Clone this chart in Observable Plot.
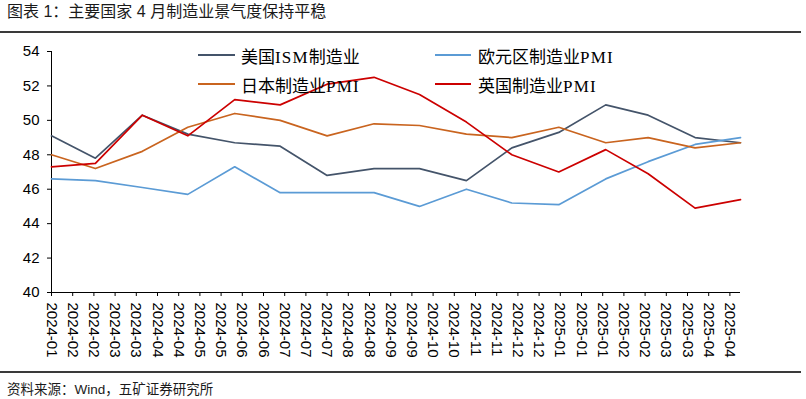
<!DOCTYPE html>
<html><head><meta charset="utf-8">
<script src="https://cdn.jsdelivr.net/npm/d3@7"></script>
<script src="https://cdn.jsdelivr.net/npm/@observablehq/plot@0.6"></script>
<style>
body{margin:0;background:#fff;width:806px;height:399px;overflow:hidden;position:relative;font-family:"Liberation Sans",Arial,"Noto Sans CJK SC",sans-serif;color:#000;}
#title{position:absolute;left:7px;top:4px;font-size:16px;line-height:16px;color:#1a1a1a;white-space:nowrap;}
.rule{position:absolute;left:0;width:801px;height:2px;background:#3a3a3a;}
#chart{position:absolute;left:0;top:36px;}
#source{position:absolute;left:7px;top:382px;font-size:13.5px;line-height:15px;color:#1a1a1a;white-space:nowrap;}
.lg-line{position:absolute;height:2px;}
.lg-text{position:absolute;font-family:"Liberation Serif","Noto Sans CJK SC",serif;font-size:17px;line-height:20px;white-space:nowrap;color:#000;}
.lat{letter-spacing:1.2px;}
</style>
</head><body>
<div id="title">图表 1：主要国家 4 月制造业景气度保持平稳</div>
<div class="rule" style="top:31px"></div>
<div id="chart"></div>
<div class="rule" style="top:371px"></div>
<div id="source">资料来源：Wind，五矿证券研究所</div>
<div id="legend"></div>
<script>
// Data (monthly, month-end dates)
const months = ["2024-01-31","2024-02-29","2024-03-31","2024-04-30","2024-05-31","2024-06-30","2024-07-31","2024-08-31","2024-09-30","2024-10-31","2024-11-30","2024-12-31","2025-01-31","2025-02-28","2025-03-31","2025-04-30"];
const seriesNames = ["美国ISM制造业","欧元区制造业PMI","日本制造业PMI","英国制造业PMI"];
const seriesColors = ["#44546A","#5B9BD5","#C9641F","#CC0000"];
const usISM   = [49.1,47.8,50.3,49.2,48.7,48.5,46.8,47.2,47.2,46.5,48.4,49.3,50.9,50.3,49.0,48.7];
const euroPMI = [46.6,46.5,46.1,45.7,47.3,45.8,45.8,45.8,45.0,46.0,45.2,45.1,46.6,47.6,48.6,49.0];
const japanPMI= [48.0,47.2,48.2,49.6,50.4,50.0,49.1,49.8,49.7,49.2,49.0,49.6,48.7,49.0,48.4,48.7];
const ukPMI   = [47.3,47.5,50.3,49.1,51.2,50.9,52.1,52.5,51.5,49.9,48.0,47.0,48.3,46.9,44.9,45.4];
const yTicks = [40,42,44,46,48,50,52,54];
const tickStepDays = 14;

const parse = d3.utcParse("%Y-%m-%d");
const dates = months.map(parse);
const allSeries = [usISM, euroPMI, japanPMI, ukPMI];
const data = [];
allSeries.forEach((vals, si) => vals.forEach((v, i) => data.push({series: seriesNames[si], date: dates[i], value: v})));
const d0 = dates[0], d1 = dates[dates.length - 1];
const xTicks = d3.utcDay.range(d0, d1, tickStepDays);

const chart = Plot.plot({
  width: 806, height: 334,
  marginLeft: 51, marginRight: 66, marginTop: 15, marginBottom: 78,
  style: {fontFamily: "'Liberation Sans', Arial, sans-serif", fontSize: "15px", color: "#000", background: "transparent", overflow: "visible"},
  x: {type: "utc", domain: [d0, d1], ticks: xTicks, tickFormat: d3.utcFormat("%Y-%m"), tickRotate: 90, tickSize: 4, tickPadding: 6, label: null},
  y: {domain: [40, 54], ticks: yTicks, tickSize: 4, tickPadding: 8, label: null},
  color: {domain: seriesNames, range: seriesColors},
  marks: [
    Plot.ruleY([40], {stroke: "#000"}),
    Plot.ruleX([d0], {stroke: "#000"}),
    Plot.lineY(data, {x: "date", y: "value", z: "series", stroke: "series", strokeWidth: 1.7, curve: "linear"})
  ]
});
document.getElementById("chart").appendChild(chart);

// Legend (HTML overlay)
const legend = document.getElementById("legend");
const lgPos = [
  {lx: 198, lw: 37, tx: 241, y: 54.5, ty: 57.5},
  {lx: 435, lw: 36, tx: 478, y: 54.5, ty: 57.5},
  {lx: 198, lw: 37, tx: 241, y: 84, ty: 86.5},
  {lx: 435, lw: 36, tx: 478, y: 84, ty: 86.5}
];
seriesNames.forEach((name, i) => {
  const p = lgPos[i];
  const ln = document.createElement("div");
  ln.className = "lg-line";
  ln.style.left = p.lx + "px"; ln.style.top = Math.round(p.y - 1) + "px"; ln.style.width = p.lw + "px";
  ln.style.background = seriesColors[i];
  legend.appendChild(ln);
  const tx = document.createElement("div");
  tx.className = "lg-text";
  tx.style.left = p.tx + "px"; tx.style.top = (p.ty - 10) + "px";
  tx.innerHTML = name.replace(/([A-Za-z]+)/g, '<span class="lat">$1</span>');
  legend.appendChild(tx);
});
</script>
</body></html>
